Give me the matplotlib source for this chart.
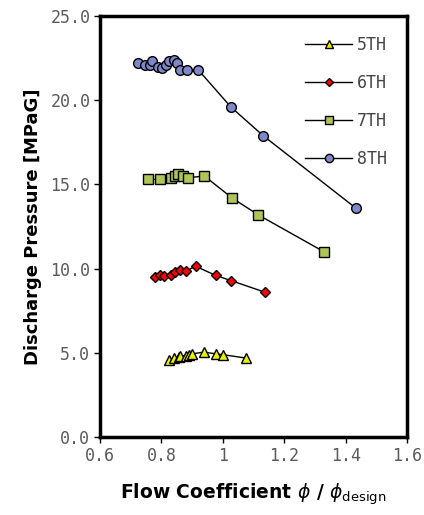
import matplotlib
matplotlib.use("Agg")
import matplotlib.pyplot as plt

# Data
x_5th = [0.823, 0.84, 0.856, 0.862, 0.88, 0.89, 0.9, 0.938, 0.977, 1.0, 1.075]
y_5th = [4.6, 4.7, 4.75, 4.8, 4.85, 4.9, 4.95, 5.05, 4.95, 4.9, 4.7]

x_6th = [0.78, 0.795, 0.807, 0.83, 0.845, 0.862, 0.879, 0.911, 0.977, 1.026, 1.138]
y_6th = [9.5, 9.6, 9.55, 9.65, 9.8, 9.95, 9.85, 10.15, 9.6, 9.3, 8.6]

x_7th = [0.757, 0.795, 0.83, 0.845, 0.855, 0.87, 0.885, 0.94, 1.03, 1.115, 1.33]
y_7th = [15.3, 15.3, 15.4, 15.5, 15.6, 15.5, 15.4, 15.5, 14.2, 13.2, 11.0]

x_8th = [0.725, 0.745, 0.764, 0.77, 0.79, 0.803, 0.815, 0.823, 0.84, 0.852,
         0.862, 0.882, 0.92, 1.026, 1.131, 1.433]
y_8th = [22.2, 22.1, 22.1, 22.3, 22.0, 21.9, 22.1, 22.3, 22.4, 22.2,
         21.8, 21.8, 21.8, 19.6, 17.9, 13.6]

x_ticks = [0.6, 0.8, 1.0, 1.2, 1.4, 1.6]
x_tick_labels = ["0.6", "0.8", "1", "1.2", "1.4", "1.6"]
y_ticks = [0, 5, 10, 15, 20, 25]
y_tick_labels = ["0.0", "5.0", "10.0", "15.0", "20.0", "25.0"]

fig = plt.figure(figsize=(4.24, 5.15), dpi=100)
ax = fig.add_axes([0.236, 0.151, 0.724, 0.818])

series = [
    (x_5th, y_5th, "5TH", "^", "#e8f000", 6.5),
    (x_6th, y_6th, "6TH", "D", "#ff0000", 5),
    (x_7th, y_7th, "7TH", "s", "#b0c458", 7),
    (x_8th, y_8th, "8TH", "o", "#7f88c8", 7),
]
for xs, ys, name, mk, col, ms in series:
    ax.plot(xs, ys, color="black", linewidth=1.0, marker=mk, markersize=ms,
            markerfacecolor=col, markeredgecolor="black", markeredgewidth=1.0,
            label=name)

ax.set_xlim(0.6, 1.6)
ax.set_ylim(0, 25)
ax.set_xticks(x_ticks)
ax.set_xticklabels(x_tick_labels, family="DejaVu Sans Mono")
ax.set_yticks(y_ticks)
ax.set_yticklabels(y_tick_labels, family="DejaVu Sans Mono")
ax.tick_params(direction="out", length=4, width=1, colors="black",
               labelcolor="#5a5a5a", labelsize=12, pad=3)

for s in ax.spines.values():
    s.set_linewidth(2.5)
    s.set_color("black")

ax.set_ylabel("Discharge Pressure [MPaG]", fontsize=13, fontweight="bold",
              labelpad=6)
ax.set_xlabel(r"Flow Coefficient $\phi$ / $\phi_{\mathrm{design}}$",
              fontsize=13.5, fontweight="bold", labelpad=12)

leg = ax.legend(loc="upper right", frameon=False,
                handlelength=2.8, labelspacing=1.2, handletextpad=0.3,
                borderaxespad=0.8, markerscale=0.85,
                prop={"family": "DejaVu Sans Mono", "size": 12})
for t in leg.get_texts():
    t.set_color("#444444")

fig.savefig("out.png", dpi=100)
